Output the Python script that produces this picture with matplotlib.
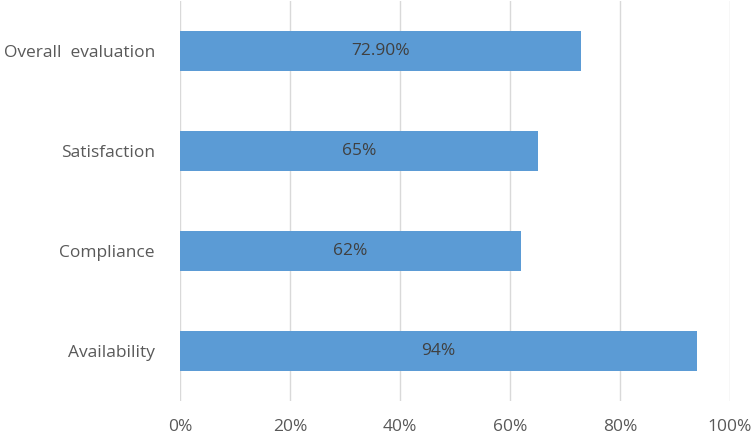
import matplotlib.pyplot as plt
from matplotlib.ticker import PercentFormatter

# data, bottom to top
categories = ["Availability", "Compliance", "Satisfaction", "Overall  evaluation"]
values = [94, 62, 65, 72.9]
value_labels = ["94%", "62%", "65%", "72.90%"]

plt.rcParams['font.family'] = ['Open Sans', 'DejaVu Sans']

fig = plt.figure(figsize=(7.56, 4.37), dpi=100)
ax = fig.add_axes([180 / 756, 1 - 401 / 437, 550 / 756, 400 / 437])

bars = ax.barh(categories, values, height=0.4, color="#5b9bd5", zorder=3)
for bar, lab in zip(bars, value_labels):
    ax.text(bar.get_width() / 2, bar.get_y() + bar.get_height() / 2, lab,
            ha="center", va="center", fontsize=12.5, color="#404040", zorder=4)

ax.set_xlim(0, 100)
ax.set_ylim(-0.5, 3.5)
ax.set_xticks(range(0, 101, 20))
ax.xaxis.set_major_formatter(PercentFormatter(decimals=0))
ax.grid(axis="x", color="#d9d9d9", linewidth=1, zorder=0)
for s in ax.spines.values():
    s.set_visible(False)
ax.tick_params(length=0, labelsize=12.5, labelcolor="#595959")
ax.tick_params(axis="x", pad=13)
ax.tick_params(axis="y", pad=18)

plt.savefig("out.png", dpi=100)
